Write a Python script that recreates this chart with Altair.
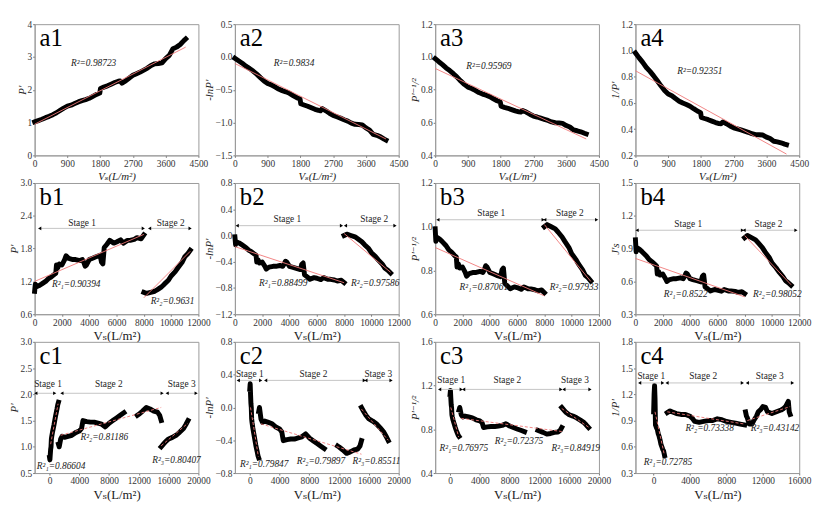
import altair as alt
import pandas as pd

FONT = "Liberation Serif, Times New Roman, DejaVu Serif, serif"
R2 = "R\u00b2"
S1, S2, S3 = "\u2081", "\u2082", "\u2083"

# ---------------- row a data ----------------
A_X = [0, 100, 200, 300, 400, 500, 600, 700, 800, 900, 1000, 1100, 1200, 1300, 1400, 1500, 1600, 1700,
       1790, 1810, 1900, 2000, 2100, 2200, 2300, 2350, 2400, 2500, 2600, 2700, 2800, 2900, 3000, 3100,
       3200, 3300, 3400, 3500, 3600, 3700, 3800, 3900, 4000, 4100, 4150]
A1_Y = [1.02, 1.06, 1.10, 1.15, 1.19, 1.24, 1.30, 1.37, 1.44, 1.50, 1.53, 1.58, 1.63, 1.67, 1.70, 1.74, 1.80, 1.86,
        1.90, 2.04, 2.08, 2.12, 2.17, 2.22, 2.26, 2.27, 2.20, 2.27, 2.36, 2.44, 2.49, 2.54, 2.60, 2.66,
        2.74, 2.79, 2.80, 2.82, 2.95, 3.05, 3.25, 3.30, 3.38, 3.50, 3.55]
A2_Y = [-0.020, -0.058, -0.095, -0.140, -0.174, -0.215, -0.262, -0.315, -0.365, -0.405, -0.425, -0.457, -0.489,
        -0.513, -0.531, -0.554, -0.588, -0.621, -0.642, -0.713, -0.732, -0.751, -0.775, -0.798, -0.815, -0.820,
        -0.788, -0.820, -0.859, -0.892, -0.912, -0.932, -0.956, -0.978, -1.008, -1.026, -1.030, -1.037, -1.082,
        -1.115, -1.179, -1.194, -1.218, -1.253, -1.267]
A3_Y = [0.990, 0.971, 0.953, 0.933, 0.917, 0.898, 0.877, 0.854, 0.833, 0.816, 0.808, 0.796, 0.783, 0.774, 0.767,
        0.758, 0.745, 0.733, 0.725, 0.700, 0.693, 0.687, 0.679, 0.671, 0.665, 0.664, 0.674, 0.664, 0.651, 0.640,
        0.634, 0.627, 0.620, 0.613, 0.604, 0.599, 0.598, 0.595, 0.582, 0.573, 0.555, 0.550, 0.544, 0.535, 0.531]
A4_Y = [0.980, 0.943, 0.909, 0.870, 0.840, 0.806, 0.769, 0.730, 0.694, 0.667, 0.654, 0.633, 0.613, 0.599, 0.588,
        0.575, 0.556, 0.538, 0.526, 0.490, 0.481, 0.472, 0.461, 0.450, 0.442, 0.441, 0.455, 0.441, 0.424, 0.410,
        0.402, 0.394, 0.385, 0.376, 0.365, 0.358, 0.357, 0.355, 0.339, 0.328, 0.308, 0.303, 0.296, 0.286, 0.282]

# ---------------- row b data ----------------
B_X1 = [0, 50, 100, 300, 500, 800, 1000, 1200, 1400, 1550, 1600, 1700, 1800, 2000, 2200, 2300, 2500, 2800, 3000,
        3300, 3500, 3600, 3700, 3800, 4000, 4200, 4500, 4800, 4900, 5000, 5100, 5300, 5500, 5800, 6000, 6300,
        6500, 6800, 7000, 7300, 7500, 7800, 8000]
B1_Y1 = [1.02, 1.15, 1.10, 1.12, 1.15, 1.20, 1.25, 1.28, 1.32, 1.35, 1.50, 1.45, 1.52, 1.50, 1.60, 1.67, 1.62, 1.60,
         1.60, 1.58, 1.60, 1.55, 1.48, 1.50, 1.60, 1.62, 1.65, 1.68, 1.55, 1.52, 1.82, 1.88, 1.95, 1.90, 1.92,
         1.96, 1.90, 1.95, 1.95, 1.97, 2.00, 1.98, 2.05]
B2_Y1 = [-0.020, -0.140, -0.095, -0.113, -0.140, -0.182, -0.223, -0.247, -0.278, -0.300, -0.405, -0.372, -0.419,
         -0.405, -0.470, -0.513, -0.482, -0.470, -0.470, -0.457, -0.470, -0.438, -0.392, -0.405, -0.470, -0.482,
         -0.501, -0.519, -0.438, -0.419, -0.599, -0.631, -0.668, -0.642, -0.652, -0.673, -0.642, -0.668, -0.668,
         -0.678, -0.693, -0.683, -0.718]
B3_Y1 = [0.990, 0.933, 0.953, 0.945, 0.933, 0.913, 0.894, 0.884, 0.870, 0.861, 0.816, 0.830, 0.811, 0.816, 0.791,
         0.774, 0.786, 0.791, 0.791, 0.796, 0.791, 0.803, 0.822, 0.816, 0.791, 0.786, 0.778, 0.772, 0.803, 0.811,
         0.741, 0.729, 0.716, 0.725, 0.722, 0.714, 0.725, 0.716, 0.716, 0.712, 0.707, 0.711, 0.698]
B4_Y1 = [0.980, 0.870, 0.909, 0.893, 0.870, 0.833, 0.800, 0.781, 0.758, 0.741, 0.667, 0.690, 0.658, 0.667, 0.625,
         0.599, 0.617, 0.625, 0.625, 0.633, 0.625, 0.645, 0.676, 0.667, 0.625, 0.617, 0.606, 0.595, 0.645, 0.658,
         0.549, 0.532, 0.513, 0.526, 0.521, 0.510, 0.526, 0.513, 0.513, 0.508, 0.500, 0.505, 0.488]
B_X2 = [8000, 8200, 8500, 8800, 9000, 9300, 9500, 9800, 10000, 10300, 10500, 10800, 11000, 11200, 11400]
B1_Y2 = [1.00, 0.98, 1.00, 1.02, 1.05, 1.10, 1.15, 1.22, 1.30, 1.38, 1.45, 1.55, 1.65, 1.70, 1.77]
B2_Y2 = [0.0, 0.02, 0.0, -0.02, -0.049, -0.095, -0.140, -0.199, -0.262, -0.322, -0.372, -0.438, -0.501, -0.531, -0.571]
B3_Y2 = [1.0, 1.010, 1.0, 0.990, 0.976, 0.953, 0.933, 0.905, 0.877, 0.851, 0.830, 0.803, 0.778, 0.767, 0.752]
B4_Y2 = [1.0, 1.020, 1.0, 0.980, 0.952, 0.909, 0.870, 0.820, 0.769, 0.725, 0.690, 0.645, 0.606, 0.588, 0.565]

# ---------------- row c data ----------------
C_X1 = [0, 50, 100, 150, 200, 250, 300, 400, 500, 600, 700, 800, 900, 1000, 1100, 1200]
C1_Y1 = [0.80, 0.75, 0.85, 0.95, 1.00, 1.15, 1.20, 1.28, 1.35, 1.42, 1.50, 1.58, 1.65, 1.72, 1.80, 1.85]
C2_Y1 = [0.223, 0.288, 0.163, 0.051, 0.0, -0.140, -0.182, -0.247, -0.300, -0.351, -0.405, -0.457, -0.501, -0.542,
         -0.588, -0.615]
C3_Y1 = [1.118, 1.155, 1.085, 1.026, 1.0, 0.933, 0.913, 0.884, 0.861, 0.839, 0.816, 0.796, 0.778, 0.762, 0.745, 0.735]
C_X2A = [1200, 1300, 1500, 1700, 2000, 2500, 3000, 3500, 4000, 4300, 4500, 5000, 5500, 6000, 6500, 7000, 7500,
         8000, 8500, 9000, 9500, 10000]
C1_Y2A = [1.05, 1.00, 1.15, 1.20, 1.18, 1.20, 1.22, 1.27, 1.30, 1.35, 1.50, 1.48, 1.47, 1.47, 1.45, 1.43, 1.38,
          1.45, 1.50, 1.55, 1.60, 1.65]
C2_Y2A = [-0.049, 0.0, -0.140, -0.182, -0.166, -0.182, -0.199, -0.239, -0.262, -0.300, -0.405, -0.392, -0.385,
          -0.385, -0.372, -0.358, -0.322, -0.372, -0.405, -0.438, -0.470, -0.501]
C3_Y2A = [0.976, 1.0, 0.933, 0.913, 0.921, 0.913, 0.905, 0.887, 0.877, 0.861, 0.816, 0.822, 0.825, 0.825, 0.830,
          0.836, 0.851, 0.830, 0.816, 0.803, 0.791, 0.778]
C_X2B = [11800, 12000, 12500, 13000, 13500, 14000, 14500, 14800, 15000]
C1_Y2B = [1.60, 1.62, 1.68, 1.75, 1.72, 1.68, 1.66, 1.60, 1.50]
C2_Y2B = [-0.470, -0.482, -0.519, -0.560, -0.542, -0.519, -0.507, -0.470, -0.405]
C3_Y2B = [0.791, 0.786, 0.772, 0.756, 0.762, 0.772, 0.776, 0.791, 0.816]
C_X3 = [15000, 15300, 15600, 16000, 16500, 17000, 17500, 18000, 18300, 18600]
C1_Y3 = [1.00, 1.05, 1.10, 1.15, 1.18, 1.22, 1.28, 1.35, 1.42, 1.50]
C2_Y3 = [0.0, -0.049, -0.095, -0.140, -0.166, -0.199, -0.247, -0.300, -0.351, -0.405]
C3_Y3 = [1.0, 0.976, 0.953, 0.933, 0.921, 0.905, 0.884, 0.861, 0.839, 0.816]

C4_X1 = [0, 50, 100, 150, 200, 300, 400, 500, 600, 700, 800, 900, 1000, 1100, 1200]
C4_Y1 = [1.00, 1.20, 1.30, 1.15, 0.85, 0.82, 0.80, 0.75, 0.72, 0.68, 0.63, 0.60, 0.57, 0.55, 0.50]
C4_X2 = [1500, 1800, 2000, 2500, 3000, 3500, 4000, 4300, 4500, 5000, 5500, 6000, 6500, 7000, 7500, 8000, 8500,
         9000, 9500, 10000]
C4_Y2 = [0.99, 1.01, 1.00, 0.98, 0.97, 0.97, 0.95, 0.92, 0.89, 0.88, 0.89, 0.90, 0.90, 0.92, 0.91, 0.89, 0.88,
         0.87, 0.86, 0.85]
C4_X3 = [10100, 10200, 10300, 10500, 10800, 11000, 11300, 11500, 11800, 12000, 12300, 12500, 13000, 13500, 14000,
         14300, 14500, 14700, 14800, 14900, 15000]
C4_Y3 = [1.00, 0.95, 0.93, 0.86, 0.86, 0.90, 0.95, 1.00, 1.03, 1.06, 1.05, 1.00, 0.98, 1.00, 1.02, 1.04, 1.06,
         1.10, 1.12, 1.00, 0.97]

# ---------------- fits (x0, x1, y0, y1) ----------------
FIT_A1 = [(0, 4150, 0.95, 3.30)]
FIT_A2 = [(0, 4150, -0.10, -1.25)]
FIT_A3 = [(0, 4150, 0.93, 0.50)]
FIT_A4 = [(0, 4150, 0.845, 0.21)]
FIT_B1 = [(0, 8000, 1.20, 2.06), (8000, 11400, 0.90, 1.75)]
FIT_B2 = [(0, 8000, -0.17, -0.72), (8000, 11400, 0.03, -0.56)]
FIT_B3 = [(0, 8000, 0.905, 0.684), (8000, 11400, 1.01, 0.75)]
FIT_B4 = [(0, 8000, 0.81, 0.459), (8000, 11400, 1.02, 0.57)]
FIT_C1 = [(150, 1150, 1.05, 1.82), (1500, 15000, 1.22, 1.75), (15000, 18600, 1.02, 1.45)]
FIT_C2 = [(100, 1150, 0.0, -0.60), (1500, 15000, -0.20, -0.57), (15000, 18600, -0.02, -0.40)]
FIT_C3 = [(100, 1150, 1.0, 0.73), (1500, 15000, 0.90, 0.78), (15000, 18600, 0.99, 0.82)]
FIT_C4 = [(150, 1150, 1.0, 0.52), (1500, 10000, 1.0, 0.86), (10300, 15000, 0.90, 1.06)]

# ---------------- R² annotations (x, y, text) ----------------
R2_A1 = [(1000, 2.8, R2 + "=0.98723")]
R2_A2 = [(1070, -0.09, R2 + "=0.9834")]
R2_A3 = [(854, 0.945, R2 + "=0.95969")]
R2_A4 = [(1148, 0.844, R2 + "=0.92351")]
R2_B1 = [(1275, 1.16, R2 + S1 + "=0.90394"), (8500, 0.85, R2 + S2 + "=0.9631")]
R2_B2 = [(1760, -0.72, R2 + S1 + "=0.88499"), (8500, -0.72, R2 + S2 + "=0.97586")]
R2_B3 = [(1790, 0.725, R2 + S1 + "=0.87061"), (8400, 0.725, R2 + S2 + "=0.97933")]
R2_B4 = [(2080, 0.48, R2 + S1 + "=0.8522"), (8620, 0.48, R2 + S2 + "=0.98052")]
R2_C1 = [(-1700, 0.64, R2 + S1 + "=0.86604"), (4150, 1.19, R2 + S2 + "=0.81186"), (13800, 0.74, R2 + S3 + "=0.80407")]
R2_C2 = [(-1325, -0.69, R2 + S1 + "=0.79847"), (6300, -0.648, R2 + S2 + "=0.79897"), (13800, -0.648, R2 + S3 + "=0.85511")]
R2_C3 = [(-1414, 0.63, R2 + S1 + "=0.76975"), (6000, 0.69, R2 + S2 + "=0.72375"), (13630, 0.63, R2 + S3 + "=0.84919")]
R2_C4 = [(-1100, 0.43, R2 + S1 + "=0.72785"), (3490, 0.82, R2 + S2 + "=0.73338"), (10670, 0.81, R2 + S3 + "=0.43142")]

# ---------------- stage arrows (x0, x1, y, label, text x, text y) ----------------
ST_B1 = [(370, 7960, 2.17, "Stage 1", 3480, 2.27), (8425, 11390, 2.17, "Stage 2", 9970, 2.27)]
ST_B2 = [(170, 7810, 0.15, "Stage 1", 3845, 0.25), (8100, 11730, 0.15, "Stage 2", 10210, 0.25)]
ST_B3 = [(200, 7910, 1.032, "Stage 1", 4110, 1.062), (8030, 11830, 1.032, "Stage 2", 9870, 1.062)]
ST_B4 = [(120, 7840, 1.068, "Stage 1", 3870, 1.128), (7960, 11760, 1.068, "Stage 2", 9750, 1.128)]
ST_C1 = [(-1840, 700, 2.02, "Stage 1", -200, 2.19), (1660, 15130, 2.02, "Stage 2", 7970, 2.19),
         (15800, 19700, 2.02, "Stage 3", 17750, 2.19)]
ST_C2 = [(-1550, 1460, 0.33, "Stage 1", 0, 0.41), (2130, 15380, 0.33, "Stage 2", 8550, 0.41),
         (15600, 18970, 0.33, "Stage 3", 17260, 0.41)]
ST_C3 = [(-1400, 1500, 1.165, "Stage 1", 150, 1.255), (1820, 14890, 1.165, "Stage 2", 7700, 1.255),
         (15290, 18790, 1.165, "Stage 3", 16770, 1.255)]
ST_C4 = [(-1540, 990, 1.33, "Stage 1", -260, 1.41), (1470, 9750, 1.33, "Stage 2", 5440, 1.41),
         (10300, 15260, 1.33, "Stage 3", 12760, 1.41)]

# ---------------- axes ----------------
XT_A = [0, 900, 1800, 2700, 3600, 4500]
XT_B = [0, 2000, 4000, 6000, 8000, 10000, 12000]
XT_C = [0, 4000, 8000, 12000, 16000, 20000]
XT_C4 = [0, 4000, 8000, 12000, 16000]
XTITLE = "V\u209b(L/m\u00b2)"

W, H = 166, 133


def panel(label, segs, fits, r2s, stages, xdom, xticks, ydom, yticks, yfmt, ytitle, xtsize, xstyle, dash):
    d = pd.DataFrame([{"x": x, "y": y, "seg": i}
                      for i, (xs, ys) in enumerate(segs) for x, y in zip(xs, ys)])
    X = alt.X("x:Q", scale=alt.Scale(domain=xdom, nice=False, zero=False),
              axis=alt.Axis(values=xticks, format="d", title=XTITLE, titleFontSize=xtsize,
                            titleFontStyle=xstyle))
    Y = alt.Y("y:Q", scale=alt.Scale(domain=ydom, nice=False, zero=False),
              axis=alt.Axis(values=yticks, format=yfmt, title=ytitle))
    layers = [alt.Chart(d).mark_line(color="black", strokeWidth=5, strokeJoin="round",
                                     strokeCap="square").encode(X, Y, detail="seg:N")]
    f = pd.DataFrame([{"x": a, "y": c, "seg": i} for i, (a, b, c, e) in enumerate(fits)] +
                     [{"x": b, "y": e, "seg": i} for i, (a, b, c, e) in enumerate(fits)])
    fm = dict(color="#f07878", strokeWidth=1, opacity=0.9)
    if dash:
        fm["strokeDash"] = [3, 2]
    layers.append(alt.Chart(f).mark_line(**fm).encode(X, Y, detail="seg:N"))
    if stages:
        s = pd.DataFrame([{"x": a, "x2": b, "y": yl} for a, b, yl, t, tx, ty in stages])
        layers.append(alt.Chart(s).mark_rule(color="#c4c4c4", strokeWidth=1).encode(X, x2="x2:Q", y=Y))
        e = pd.DataFrame([{"x": a, "y": yl, "shape": "triangle-left"} for a, b, yl, t, tx, ty in stages] +
                         [{"x": b, "y": yl, "shape": "triangle-right"} for a, b, yl, t, tx, ty in stages])
        layers.append(alt.Chart(e).mark_point(filled=True, color="black", size=14, opacity=1).encode(
            X, Y, shape=alt.Shape("shape:N", scale=None)))
        t = pd.DataFrame([{"x": tx, "y": ty, "t": lab} for a, b, yl, lab, tx, ty in stages])
        layers.append(alt.Chart(t).mark_text(font=FONT, fontSize=9.5, color="#222").encode(X, Y, text="t:N"))
    r = pd.DataFrame([{"x": x, "y": y, "t": s} for x, y, s in r2s])
    layers.append(alt.Chart(r).mark_text(font=FONT, fontSize=9.5, fontStyle="italic", align="left",
                                         color="#222").encode(X, Y, text="t:N"))
    lab = pd.DataFrame({"t": [label]})
    layers.append(alt.Chart(lab).mark_text(font=FONT, fontSize=25, align="left", baseline="alphabetic",
                                           color="black").encode(x=alt.value(5), y=alt.value(22), text="t:N"))
    return alt.layer(*layers).properties(width=W, height=H)


PT = "P'"
PH = "P'\u207b\u00b9/\u00b2"
panels = [
    panel("a1", [(A_X, A1_Y)], FIT_A1, R2_A1, None, [0, 4500], XT_A, [0, 4], [0, 1, 2, 3, 4], ".0f", PT, 11, "italic", False),
    panel("a2", [(A_X, A2_Y)], FIT_A2, R2_A2, None, [0, 4500], XT_A, [-1.5, 0.5], [-1.5, -1.0, -0.5, 0.0, 0.5], ".1f", "-lnP'", 11, "italic", False),
    panel("a3", [(A_X, A3_Y)], FIT_A3, R2_A3, None, [0, 4500], XT_A, [0.4, 1.2], [0.4, 0.6, 0.8, 1.0, 1.2], ".1f", PH, 11, "italic", False),
    panel("a4", [(A_X, A4_Y)], FIT_A4, R2_A4, None, [0, 4500], XT_A, [0.2, 1.2], [0.2, 0.4, 0.6, 0.8, 1.0, 1.2], ".1f", "1/P'", 11, "italic", False),
    panel("b1", [(B_X1, B1_Y1), (B_X2, B1_Y2)], FIT_B1, R2_B1, ST_B1, [0, 12000], XT_B, [0.6, 3.0], [0.6, 1.2, 1.8, 2.4, 3.0], ".1f", PT, 13, "normal", False),
    panel("b2", [(B_X1, B2_Y1), (B_X2, B2_Y2)], FIT_B2, R2_B2, ST_B2, [0, 12000], XT_B, [-1.2, 0.8], [-1.2, -0.8, -0.4, 0.0, 0.4, 0.8], ".1f", "-lnP'", 13, "normal", False),
    panel("b3", [(B_X1, B3_Y1), (B_X2, B3_Y2)], FIT_B3, R2_B3, ST_B3, [0, 12000], XT_B, [0.6, 1.2], [0.6, 0.8, 1.0, 1.2], ".1f", PH, 13, "normal", False),
    panel("b4", [(B_X1, B4_Y1), (B_X2, B4_Y2)], FIT_B4, R2_B4, ST_B4, [0, 12000], XT_B, [0.3, 1.5], [0.3, 0.6, 0.9, 1.2, 1.5], ".1f", "J's", 13, "normal", False),
    panel("c1", [(C_X1, C1_Y1), (C_X2A, C1_Y2A), (C_X2B, C1_Y2B), (C_X3, C1_Y3)], FIT_C1, R2_C1, ST_C1, [-2000, 20000], XT_C, [0.5, 3.0], [0.5, 1.0, 1.5, 2.0, 2.5, 3.0], ".1f", PT, 13, "normal", True),
    panel("c2", [(C_X1, C2_Y1), (C_X2A, C2_Y2A), (C_X2B, C2_Y2B), (C_X3, C2_Y3)], FIT_C2, R2_C2, ST_C2, [-2000, 20000], XT_C, [-0.8, 0.8], [-0.8, -0.4, 0.0, 0.4, 0.8], ".1f", "-lnP'", 13, "normal", True),
    panel("c3", [(C_X1, C3_Y1), (C_X2A, C3_Y2A), (C_X2B, C3_Y2B), (C_X3, C3_Y3)], FIT_C3, R2_C3, ST_C3, [-2000, 20000], XT_C, [0.4, 1.6], [0.4, 0.8, 1.2, 1.6], ".1f", PH, 13, "normal", True),
    panel("c4", [(C4_X1, C4_Y1), (C4_X2, C4_Y2), (C4_X3, C4_Y3)], FIT_C4, R2_C4, ST_C4, [-2000, 16000], XT_C4, [0.3, 1.8], [0.3, 0.6, 0.9, 1.2, 1.5, 1.8], ".1f", "1/P'", 13, "normal", True),
]

chart = alt.concat(*panels, columns=4, spacing={"row": 28, "column": 37}, bounds="flush").properties(
    padding={"left": 0, "top": 7, "right": 4, "bottom": 0}, background="white"
).configure_view(stroke="#9a9a9a", strokeWidth=1).configure_axis(
    labelFont=FONT, titleFont=FONT, labelFontSize=9.5, titleFontSize=11, grid=False,
    domainColor="#9a9a9a", tickColor="#777", tickSize=2, labelPadding=1,
    titleFontWeight="normal", labelColor="#333", titleColor="#222", labelFlush=False, labelOverlap=False
).configure_axisY(titleFontStyle="italic", titlePadding=0).configure_axisX(titlePadding=3)

chart.save("out.html", embed_options={"renderer": "svg", "actions": False})
